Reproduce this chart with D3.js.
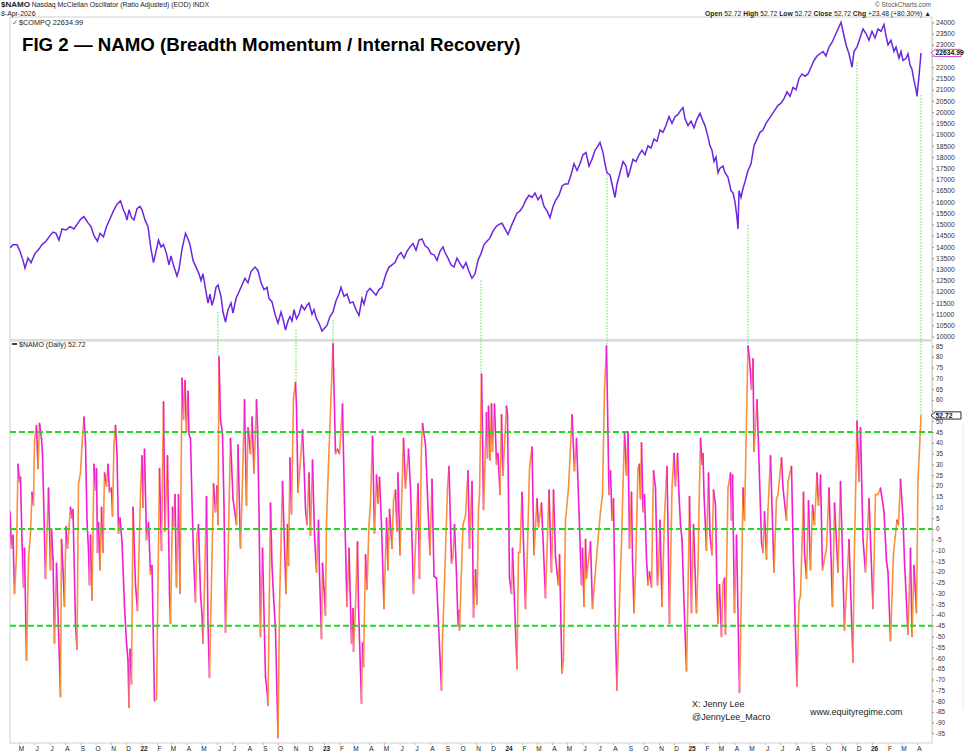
<!DOCTYPE html>
<html>
<head>
<meta charset="utf-8">
<script src="https://cdn.jsdelivr.net/npm/d3@7"></script>
<style>
  body { margin: 0; background: #fff; }
  svg { display: block; font-family: Arial, "Liberation Sans", sans-serif; }
</style>
</head>
<body>
<div id="chart"></div>
<script>
// day 0 = 12-Apr-2021, last bar = 8-Apr-2026
const startDate = new Date(2021, 3, 12);
const endDate = new Date(2026, 3, 8);

// $COMPQ : [days since start, close]
const compq = [[0,13950],[6,14100],[14,14100],[20,13800],[26,13400],[30,13050],[36,13500],[42,13300],[50,13700],[58,13900],[64,14100],[72,14250],[80,14500],[86,14660],[92,14600],[98,14300],[104,14800],[112,14750],[120,14900],[128,14800],[134,15000],[142,15250],[148,15350],[155,15100],[162,14900],[168,14500],[175,14250],[180,14600],[187,14450],[193,14900],[200,15250],[207,15600],[214,15900],[221,16050],[226,15700],[230,15500],[234,15200],[238,15650],[243,15300],[248,15200],[254,15700],[260,15800],[264,15650],[270,15200],[276,14900],[282,13900],[287,13300],[292,13800],[297,14300],[302,14000],[307,14100],[313,13700],[318,13200],[322,13600],[328,13100],[334,12700],[338,13000],[344,13900],[351,14600],[356,14350],[360,14100],[366,13400],[372,13100],[378,12800],[382,12500],[386,12800],[392,12000],[396,11500],[400,11900],[404,11400],[408,11700],[412,12200],[416,12300],[422,11800],[426,11100],[431,10650],[436,11200],[442,11500],[446,11050],[452,11700],[458,12000],[464,12300],[470,12600],[476,12400],[482,12900],[490,13100],[496,12950],[502,12400],[508,12100],[514,12200],[518,11700],[524,11550],[530,11000],[536,10600],[542,11100],[547,10700],[551,10300],[556,10700],[560,10900],[564,10700],[568,11200],[573,10800],[578,11000],[583,11400],[589,11200],[594,11400],[598,11500],[604,11000],[608,11200],[613,10800],[618,10600],[624,10250],[628,10350],[634,10500],[640,10900],[646,11100],[652,11600],[658,11900],[662,12200],[668,11800],[674,11900],[680,11500],[686,11550],[692,11200],[698,10950],[704,11700],[708,11450],[714,12000],[720,12150],[726,12000],[732,11850],[738,12100],[744,12200],[752,12800],[758,13100],[764,13200],[770,13300],[776,13600],[782,13750],[788,13500],[794,13800],[800,14000],[806,14150],[812,13850],[818,14300],[824,14350],[830,14050],[836,13950],[842,13700],[848,13650],[854,13400],[860,13800],[866,14000],[870,13750],[876,13500],[882,13200],[888,13100],[894,13500],[900,13250],[906,13050],[912,13300],[918,12900],[924,12600],[930,12800],[936,13400],[942,13700],[948,14100],[954,14250],[960,14400],[966,14700],[972,14900],[978,15000],[984,15050],[990,14800],[996,14550],[1002,14900],[1008,15200],[1014,15500],[1020,15600],[1026,15800],[1032,16100],[1038,16300],[1044,16200],[1050,16400],[1056,16100],[1062,16300],[1068,15800],[1074,15600],[1080,15300],[1086,15800],[1092,16100],[1098,16300],[1104,16700],[1110,16800],[1116,16800],[1122,17200],[1128,17700],[1134,17400],[1140,17700],[1146,18100],[1152,18200],[1158,17600],[1164,17900],[1170,18300],[1176,18500],[1180,18650],[1186,18200],[1190,17700],[1194,17300],[1200,17200],[1206,16600],[1210,16200],[1214,16800],[1220,17300],[1226,17800],[1232,17600],[1236,17100],[1240,17400],[1246,17900],[1252,17800],[1258,18100],[1264,18300],[1270,18100],[1276,18500],[1282,18400],[1288,18800],[1294,18700],[1300,19200],[1306,19100],[1312,19400],[1318,19800],[1324,19500],[1330,19800],[1336,19900],[1342,20100],[1346,20200],[1350,19700],[1356,19400],[1362,19600],[1368,19300],[1374,19700],[1380,19950],[1386,19600],[1390,19400],[1396,18900],[1400,18500],[1404,18300],[1408,17800],[1412,18000],[1416,17300],[1420,17500],[1426,17600],[1430,17300],[1436,17100],[1442,16500],[1446,16400],[1450,16000],[1454,15300],[1456,14800],[1458,16500],[1462,16200],[1466,16600],[1470,16900],[1476,17400],[1482,17700],[1488,18500],[1494,18800],[1500,19100],[1506,19200],[1512,19500],[1518,19700],[1524,19900],[1530,20100],[1536,20300],[1542,20400],[1548,20600],[1554,20900],[1560,20700],[1566,21100],[1572,21000],[1578,21500],[1584,21700],[1590,21600],[1596,21700],[1602,22000],[1608,22300],[1614,22500],[1620,22600],[1626,22700],[1632,22500],[1638,22900],[1644,23100],[1650,23400],[1656,23700],[1662,24000],[1668,23400],[1672,23000],[1678,22600],[1684,22000],[1688,22700],[1694,22900],[1700,23300],[1706,23700],[1712,23500],[1718,23200],[1724,23600],[1730,23300],[1736,23700],[1742,23600],[1748,23900],[1752,23400],[1756,23000],[1762,23200],[1768,22700],[1772,22900],[1778,22400],[1782,22700],[1786,22300],[1792,22400],[1796,22600],[1800,22100],[1804,21900],[1808,21400],[1812,21000],[1814,20700],[1818,21600],[1822,22634.99]];

// $NAMO swing points : [days since start, value]
const namo = [[0,8],[3,-9],[6,-3],[9,-30],[13,-12],[16,30],[19,22],[21,24],[24,-5],[27,-27],[29,-9],[33,-61],[37,-14],[41,-2],[44,17],[47,11],[49,41],[53,48],[56,28],[59,49],[63,42],[65,35],[71,-23],[77,19],[81,-19],[83,0],[86,-14],[89,-53],[93,-16],[101,-78],[103,-5],[106,-19],[109,-36],[112,1],[115,-9],[117,-3],[121,10],[124,5],[126,9],[131,-44],[134,-56],[137,21],[141,26],[144,39],[148,52],[151,40],[154,4],[157,-10],[159,-26],[161,-3],[164,-33],[168,30],[171,18],[173,28],[175,-11],[177,3],[180,-19],[183,10],[186,-11],[189,26],[193,20],[196,30],[199,17],[203,19],[205,6],[208,40],[211,48],[214,35],[217,-2],[220,5],[224,-6],[229,-36],[233,-53],[236,-61],[238,-83],[240,-56],[243,-72],[246,10],[251,-26],[255,-38],[261,17],[264,34],[266,10],[269,37],[273,-5],[277,3],[281,-21],[284,-17],[289,-80],[293,-79],[299,28],[303,-10],[307,59],[310,-1],[315,34],[319,-30],[321,-44],[325,10],[327,1],[330,16],[333,-27],[337,16],[340,-30],[344,70],[347,51],[350,69],[353,45],[356,64],[358,44],[361,42],[364,13],[367,-12],[371,-34],[374,-3],[377,2],[381,-30],[384,-40],[386,-53],[389,-26],[393,15],[396,-44],[399,-69],[404,-13],[407,21],[411,8],[414,20],[416,2],[418,80],[421,51],[425,44],[428,11],[431,-48],[436,-14],[441,42],[446,14],[453,2],
  [456,39],[461,-9],[464,14],[469,60],[473,11],[476,47],[481,35],[484,52],[488,26],[493,60],[495,47],[498,9],[501,-50],[505,-9],[511,-69],[514,-75],[516,-82],[521,12],[524,-17],[527,-31],[531,-47],[536,-97],[539,-36],[545,22],[552,-30],[555,2],[557,-17],[560,33],[563,7],[567,61],[571,68],[573,57],[576,17],[580,29],[585,46],[588,30],[591,9],[594,2],[598,26],[601,-3],[605,32],[609,-3],[613,-20],[615,-9],[617,4],[619,-21],[623,-51],[625,-16],[628,-28],[631,-40],[633,3],[637,30],[646,86],[651,35],[655,37],[659,35],[665,58],[669,12],[674,-36],[678,-9],[683,-53],[686,-37],[687,-57],[691,-36],[695,-6],[697,-36],[703,-81],[705,-53],[707,-64],[711,-12],[714,-28],[718,2],[721,12],[725,43],[729,-2],[733,25],[736,12],[739,24],[743,2],[748,-37],[753,5],[756,-19],[759,9],[764,-9],[767,13],[771,18],[774,-1],[776,26],[780,-12],[787,42],[791,19],[797,37],[801,19],[807,-30],[816,21],[819,-23],[823,39],[825,49],[831,39],[836,10],[840,-12],[844,23],[848,-22],[853,-23],[856,-39],[863,-75],[865,-51],[869,-25],[875,19],[878,29],[883,-16],[886,-13],[889,2],[893,-21],[896,-45],[898,-38],[899,-47],[906,2],[911,6],
  [916,27],[919,-9],[924,22],[927,-41],[931,-19],[934,-35],[937,9],[939,16],[943,72],[945,45],[947,9],[949,23],[953,54],[955,33],[957,57],[960,32],[963,58],[965,36],[969,58],[973,30],[976,35],[980,16],[983,53],[986,25],[993,57],[995,53],[999,-23],[1003,-30],[1005,-9],[1009,-34],[1014,-65],[1017,-11],[1020,-11],[1024,17],[1031,-37],[1034,-17],[1039,28],[1044,38],[1048,-12],[1054,14],[1057,1],[1063,12],[1071,-32],[1078,18],[1083,-20],[1087,18],[1091,-13],[1094,-20],[1097,-26],[1099,-12],[1104,-67],[1107,-61],[1111,4],[1117,19],[1124,53],[1129,27],[1133,42],[1143,-26],[1145,-9],[1148,-36],[1151,-5],[1153,-23],[1161,-6],[1165,-37],[1167,-31],[1176,-5],[1181,8],[1185,16],[1189,65],[1193,85],[1198,16],[1201,27],[1204,4],[1207,14],[1211,-49],[1214,-75],[1216,-58],[1220,-26],[1223,-7],[1226,20],[1229,45],[1233,25],[1236,45],[1239,-9],[1243,17],[1245,-14],[1248,-39],[1251,-20],[1256,28],[1259,30],[1261,14],[1263,40],[1266,8],[1269,16],[1273,-14],[1276,-26],[1279,-20],[1283,-27],[1287,27],[1291,19],[1295,-26],[1297,-20],[1300,4],[1304,-36],[1309,6],[1314,29],[1319,-44],[1324,19],[1328,35],[1331,20],[1335,35],[1338,16],[1341,2],[1344,-5],[1348,-34],[1353,-66],[1356,-30],[1359,15],[1363,-39],[1367,2],[1373,-39],
  [1376,-18],[1378,9],[1381,42],[1384,30],[1386,35],[1388,16],[1393,-10],[1397,26],[1400,-3],[1404,-12],[1407,18],[1411,11],[1414,-30],[1416,-44],[1419,-26],[1423,-50],[1426,-25],[1429,-23],[1431,-49],[1436,19],[1441,26],[1443,4],[1445,25],[1449,-39],[1453,-3],[1459,-76],[1463,-28],[1466,19],[1469,4],[1476,85],[1479,79],[1483,65],[1486,79],[1488,36],[1491,48],[1494,60],[1497,39],[1503,-6],[1506,-11],[1509,8],[1513,-14],[1516,9],[1521,34],[1528,-20],[1533,14],[1536,16],[1543,33],[1546,19],[1553,4],[1556,22],[1563,29],[1567,-16],[1574,-73],[1578,-34],[1581,-31],[1587,17],[1589,-11],[1593,-23],[1597,13],[1601,-19],[1605,11],[1609,2],[1614,26],[1617,11],[1621,25],[1625,-19],[1633,-9],[1638,19],[1645,-36],[1649,12],[1656,-20],[1661,22],[1669,-47],[1678,-5],[1686,-62],[1688,-20],[1694,50],[1698,22],[1701,47],[1706,-5],[1711,-20],[1718,14],[1726,-37],[1731,16],[1736,16],[1741,19],[1748,8],[1753,-15],[1756,-20],[1761,-52],[1767,-11],[1774,4],[1777,2],[1781,23],[1786,5],[1789,-15],[1796,-49],[1801,-9],[1804,-50],[1808,-17],[1813,-39],[1816,23],[1819,37],[1822,52.72]];

const priceTicks = [10000,10500,11000,11500,12000,12500,13000,13500,14000,14500,15000,15500,16000,16500,17000,17500,18000,18500,19000,19500,20000,20500,21000,21500,22000,22500,23000,23500,24000];
const namoTicks = [85,80,75,70,65,60,55,50,45,40,35,30,25,20,15,10,5,0,-5,-10,-15,-20,-25,-30,-35,-40,-45,-50,-55,-60,-65,-70,-75,-80,-85,-90,-95];
const namoLevels = [45, 0, -45];
const monthLetters = ["J","F","M","A","M","J","J","A","S","O","N","D"];

// price lows that line up with NAMO thrusts
const thrustDays = [416, 572, 646, 942, 1194, 1476, 1694, 1822];
const thrustPrice = [11100, 10300, 10750, 12500, 17200, 14970, 22230, 20760];
const thrustNamo = [80, 68, 86, 72, 85, 85, 50, 52.72];

const lastPrice = 22634.99;
const lastNamo = 52.72;

const left = 10, right = 932;
const font = "Arial, 'Liberation Sans', sans-serif";
const svg = d3.select("#chart").append("svg")
    .attr("width", 980)
    .attr("height", 754);

const x = d3.scaleTime().domain([startDate, endDate]).range([left, 921]);
const yP = d3.scaleLinear().domain([10000, 24000]).range([336.7, 22.3]);
const yN = d3.scaleLinear().domain([-95, 85]).range([733.3, 346]);
const dayX = d => x(d3.timeDay.offset(startDate, d));

const defs = svg.append("defs");
defs.append("clipPath").attr("id", "clipP")
  .append("rect").attr("x", left).attr("y", 17).attr("width", right - left).attr("height", 323);
defs.append("clipPath").attr("id", "clipN")
  .append("rect").attr("x", left).attr("y", 341).attr("width", right - left).attr("height", 402);

//panel frames
svg.append("rect").attr("x", left).attr("y", 17).attr("width", right - left).attr("height", 323)
    .attr("fill", "none").attr("stroke", "#cfcfcf");
svg.append("rect").attr("x", left).attr("y", 341).attr("width", right - left).attr("height", 402)
    .attr("fill", "none").attr("stroke", "#cfcfcf");
svg.append("line").attr("x1", left).attr("x2", right).attr("y1", 340).attr("y2", 340)
    .attr("stroke", "#dcdcdc").attr("stroke-width", 2);
svg.append("line").attr("x1", 963).attr("x2", 963).attr("y1", 423).attr("y2", 710)
    .attr("stroke", "#e6e6e6");

//header
const head = svg.append("text").attr("x", 1).attr("y", 7).attr("font-size", 6.9).attr("fill", "#222");
head.append("tspan").attr("font-weight", "bold").attr("font-size", 8).text("$NAMO");
head.append("tspan").text(" Nasdaq McClellan Oscillator (Ratio Adjusted) (EOD) INDX");
svg.append("text").attr("x", 1).attr("y", 15.5).attr("font-size", 6.9).attr("fill", "#222").text("8-Apr-2026");
svg.append("text").attr("x", 931).attr("y", 7).attr("font-size", 6.5).attr("fill", "#555")
    .attr("text-anchor", "end").text("© StockCharts.com");
const ohlc = svg.append("text").attr("x", 931).attr("y", 15.5).attr("font-size", 6.8).attr("fill", "#222")
    .attr("text-anchor", "end");
[["Open ", "52.72  "], ["High ", "52.72  "], ["Low ", "52.72  "], ["Close ", "52.72  "], ["Chg ", "+23.48 (+80.30%) ▲"]]
  .forEach(([k, v]) => {
    ohlc.append("tspan").attr("font-weight", "bold").text(k);
    ohlc.append("tspan").text(v);
  });

//title
svg.append("text").attr("x", 22).attr("y", 51)
    .attr("font-size", 18.7).attr("font-weight", "bold").attr("fill", "#000")
    .text("FIG 2 — NAMO (Breadth Momentum / Internal Recovery)");

//price panel legend
svg.append("text").attr("x", 12).attr("y", 25).attr("font-size", 7).attr("fill", "#7a2ee6").text("✓");
svg.append("text").attr("x", 19).attr("y", 25.3).attr("font-size", 7.3).attr("fill", "#222")
    .text("$COMPQ 22634.99");

//price line
svg.append("path")
    .datum(compq)
    .attr("clip-path", "url(#clipP)")
    .attr("fill", "none")
    .attr("stroke", "#6b26de")
    .attr("stroke-width", 1.5)
    .attr("stroke-linejoin", "miter")
    .attr("d", d3.line().x(d => dayX(d[0])).y(d => yP(d[1])));

//price axis (22500 sits under the last-value tag)
svg.append("g")
    .attr("transform", `translate(${right},0)`)
    .call(d3.axisRight(yP).tickValues(priceTicks).tickSize(2).tickPadding(2)
        .tickFormat(d => d === 22500 ? "" : d3.format("d")(d)))
    .call(g => g.select(".domain").attr("stroke", "#cfcfcf"))
    .call(g => g.selectAll(".tick line").attr("stroke", "#999"))
    .call(g => g.selectAll("text").attr("font-size", 6.8).attr("fill", "#333").attr("font-family", font));

//NAMO legend
svg.append("line").attr("x1", 12).attr("x2", 17).attr("y1", 344).attr("y2", 344)
    .attr("stroke", "#111").attr("stroke-width", 1.6);
svg.append("text").attr("x", 19).attr("y", 346.5).attr("font-size", 7).attr("fill", "#222")
    .text("$NAMO (Daily) 52.72");

//NAMO line, rising legs orange and falling legs magenta
const namoG = svg.append("g").attr("clip-path", "url(#clipN)");
namoG.selectAll("line")
  .data(d3.pairs(namo))
  .join("line")
    .attr("x1", d => dayX(d[0][0]))
    .attr("y1", d => yN(d[0][1]))
    .attr("x2", d => dayX(d[1][0]))
    .attr("y2", d => yN(d[1][1]))
    .attr("stroke", d => d[1][1] >= d[0][1] ? "#f7913a" : "#f01ed0")
    .attr("stroke-width", 1.6)
    .attr("stroke-linecap", "round");

//reference levels
svg.append("g")
  .selectAll("line")
  .data(namoLevels)
  .join("line")
    .attr("x1", left)
    .attr("x2", right)
    .attr("y1", d => yN(d))
    .attr("y2", d => yN(d))
    .attr("stroke", "#22d622")
    .attr("stroke-width", 2)
    .attr("stroke-dasharray", "6,3");

//thrust markers
svg.append("g")
  .selectAll("line")
  .data(thrustDays)
  .join("line")
    .attr("x1", d => dayX(d))
    .attr("x2", d => dayX(d))
    .attr("y1", (d, i) => yP(thrustPrice[i]))
    .attr("y2", (d, i) => yN(thrustNamo[i]))
    .attr("stroke", "#4fe34f")
    .attr("stroke-width", 1)
    .attr("stroke-dasharray", "1.5,1.5");

//NAMO axis (55 sits under the last-value tag)
svg.append("g")
    .attr("transform", `translate(${right},0)`)
    .call(d3.axisRight(yN).tickValues(namoTicks).tickSize(2).tickPadding(2)
        .tickFormat(d => d === 55 ? "" : d))
    .call(g => g.select(".domain").attr("stroke", "#cfcfcf"))
    .call(g => g.selectAll(".tick line").attr("stroke", "#999"))
    .call(g => g.selectAll("text").attr("font-size", 6.3).attr("fill", "#333").attr("font-family", font));

//last value tags
function valueTag(y, label, stroke) {
    const g = svg.append("g").attr("transform", `translate(${right - 1},${y})`);
    g.append("path")
        .attr("d", "M0,0 L4,-3.6 L30,-3.6 L30,3.6 L4,3.6 Z")
        .attr("fill", "#fff")
        .attr("stroke", stroke)
        .attr("stroke-width", 0.9);
    g.append("text")
        .attr("x", 4.5).attr("y", 2.4)
        .attr("font-size", 6.8).attr("font-weight", "bold").attr("fill", "#111")
        .text(label);
}
valueTag(yP(lastPrice), "22634.99", "#c93ad8");
valueTag(yN(lastNamo), "52.72", "#111");

//month axis
const months = d3.timeMonth.range(d3.timeMonth.ceil(startDate), endDate);
const monthG = svg.append("g");
monthG.selectAll("line")
  .data(months)
  .join("line")
    .attr("x1", d => x(d)).attr("x2", d => x(d))
    .attr("y1", 743).attr("y2", 745)
    .attr("stroke", "#bbb");
monthG.selectAll("text")
  .data(months)
  .join("text")
    .attr("x", d => x(d) + 2)
    .attr("y", 751)
    .attr("text-anchor", "middle")
    .attr("font-size", 6.5)
    .attr("font-weight", d => d.getMonth() === 0 ? "bold" : "normal")
    .attr("fill", "#222")
    .text(d => d.getMonth() === 0 ? d3.timeFormat("%y")(d) : monthLetters[d.getMonth()]);

//credits
svg.append("text").attr("x", 692).attr("y", 707).attr("font-size", 9).attr("fill", "#222").text("X: Jenny Lee");
svg.append("text").attr("x", 692).attr("y", 720).attr("font-size", 9).attr("fill", "#222").text("@JennyLee_Macro");
svg.append("text").attr("x", 810).attr("y", 715).attr("font-size", 9).attr("fill", "#222").text("www.equityregime.com");
</script>
</body>
</html>
